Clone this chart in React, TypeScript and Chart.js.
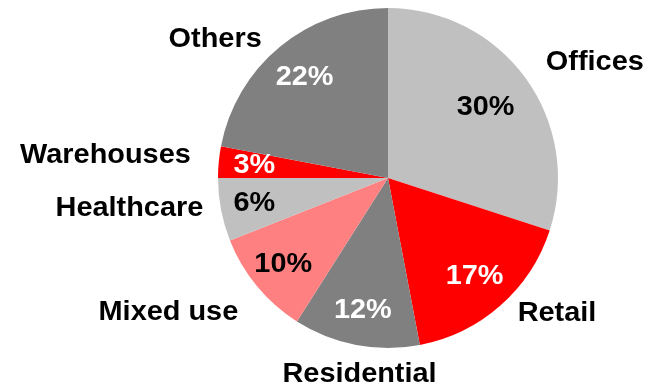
import React, { useEffect, useRef } from "react";
import { Chart, registerables } from "chart.js";

Chart.register(...registerables);

// Portfolio split by property type
const sectors = ["Offices", "Retail", "Residential", "Mixed use", "Healthcare", "Warehouses", "Others"];
const shares = [30, 17, 12, 10, 6, 3, 22];
const sliceColors = ["#C0C0C0", "#FF0000", "#808080", "#FF8080", "#C0C0C0", "#FF0000", "#808080"];
const valueColors = ["#000000", "#FFFFFF", "#FFFFFF", "#000000", "#000000", "#FFFFFF", "#FFFFFF"];

const FONT = '"Liberation Sans", Arial, Helvetica, sans-serif';

// Text drawn with a slight horizontal widening, like the original typeface
function drawText(
  ctx: CanvasRenderingContext2D,
  text: string,
  px: number,
  py: number,
  widen: number
) {
  ctx.save();
  ctx.translate(px, py);
  ctx.scale(widen, 1);
  ctx.fillText(text, 0, 0);
  ctx.restore();
}

// Draws the percentage inside each slice and the sector name outside it.
const sliceLabels = {
  id: "sliceLabels",
  afterDatasetsDraw(chart: any) {
    const ctx = chart.ctx as CanvasRenderingContext2D;
    const meta = chart.getDatasetMeta(0);
    const innerRadius = [0.71, 0.77, 0.79, 0.8, 0.8, 0.79, 0.77];
    const nudges = [
      [9, -7],
      [8, -2],
      [6, 16],
      [-8, 17],
      [-4, -4],
      [-14, -5],
      [-9, 3],
    ];
    ctx.save();
    meta.data.forEach((arc: any, i: number) => {
      const { x, y, startAngle, endAngle, outerRadius } = arc.getProps(
        ["x", "y", "startAngle", "endAngle", "outerRadius"],
        true
      );
      const mid = (startAngle + endAngle) / 2;
      const cx = Math.cos(mid);
      const cy = Math.sin(mid);

      // value inside the slice
      const r = outerRadius * innerRadius[i];
      ctx.font = `bold 28px ${FONT}`;
      ctx.fillStyle = valueColors[i];
      ctx.textAlign = "center";
      ctx.textBaseline = "middle";
      drawText(ctx, `${shares[i]}%`, x + cx * r, y + cy * r, 1.03);

      // category name outside the slice
      const ro = outerRadius + 14;
      let align: CanvasTextAlign = "center";
      if (cx > 0.3) align = "left";
      else if (cx < -0.3) align = "right";
      ctx.textAlign = align;
      ctx.fillStyle = "#000000";
      ctx.font = `bold 27px ${FONT}`;
      drawText(ctx, sectors[i], x + cx * ro + nudges[i][0], y + cy * ro + nudges[i][1], 1.07);
    });
    ctx.restore();
  },
};

export default function App() {
  const canvasRef = useRef<HTMLCanvasElement | null>(null);

  useEffect(() => {
    const canvas = canvasRef.current;
    if (!canvas) return;
    const chart = new Chart(canvas, {
      type: "pie",
      data: {
        labels: sectors,
        datasets: [
          {
            data: shares,
            backgroundColor: sliceColors,
            borderWidth: 0,
          },
        ],
      },
      options: {
        animation: false,
        responsive: false,
        maintainAspectRatio: false,
        layout: { padding: { top: 8, bottom: 39, left: 218, right: 90 } },
        plugins: {
          legend: { display: false },
          tooltip: { enabled: false },
        },
      },
      plugins: [sliceLabels],
    });
    return () => chart.destroy();
  }, []);

  return (
    <div style={{ position: "fixed", left: 0, top: 0, width: 648, height: 387, background: "#FFFFFF" }}>
      <canvas ref={canvasRef} width={648} height={387} style={{ display: "block" }} />
    </div>
  );
}
